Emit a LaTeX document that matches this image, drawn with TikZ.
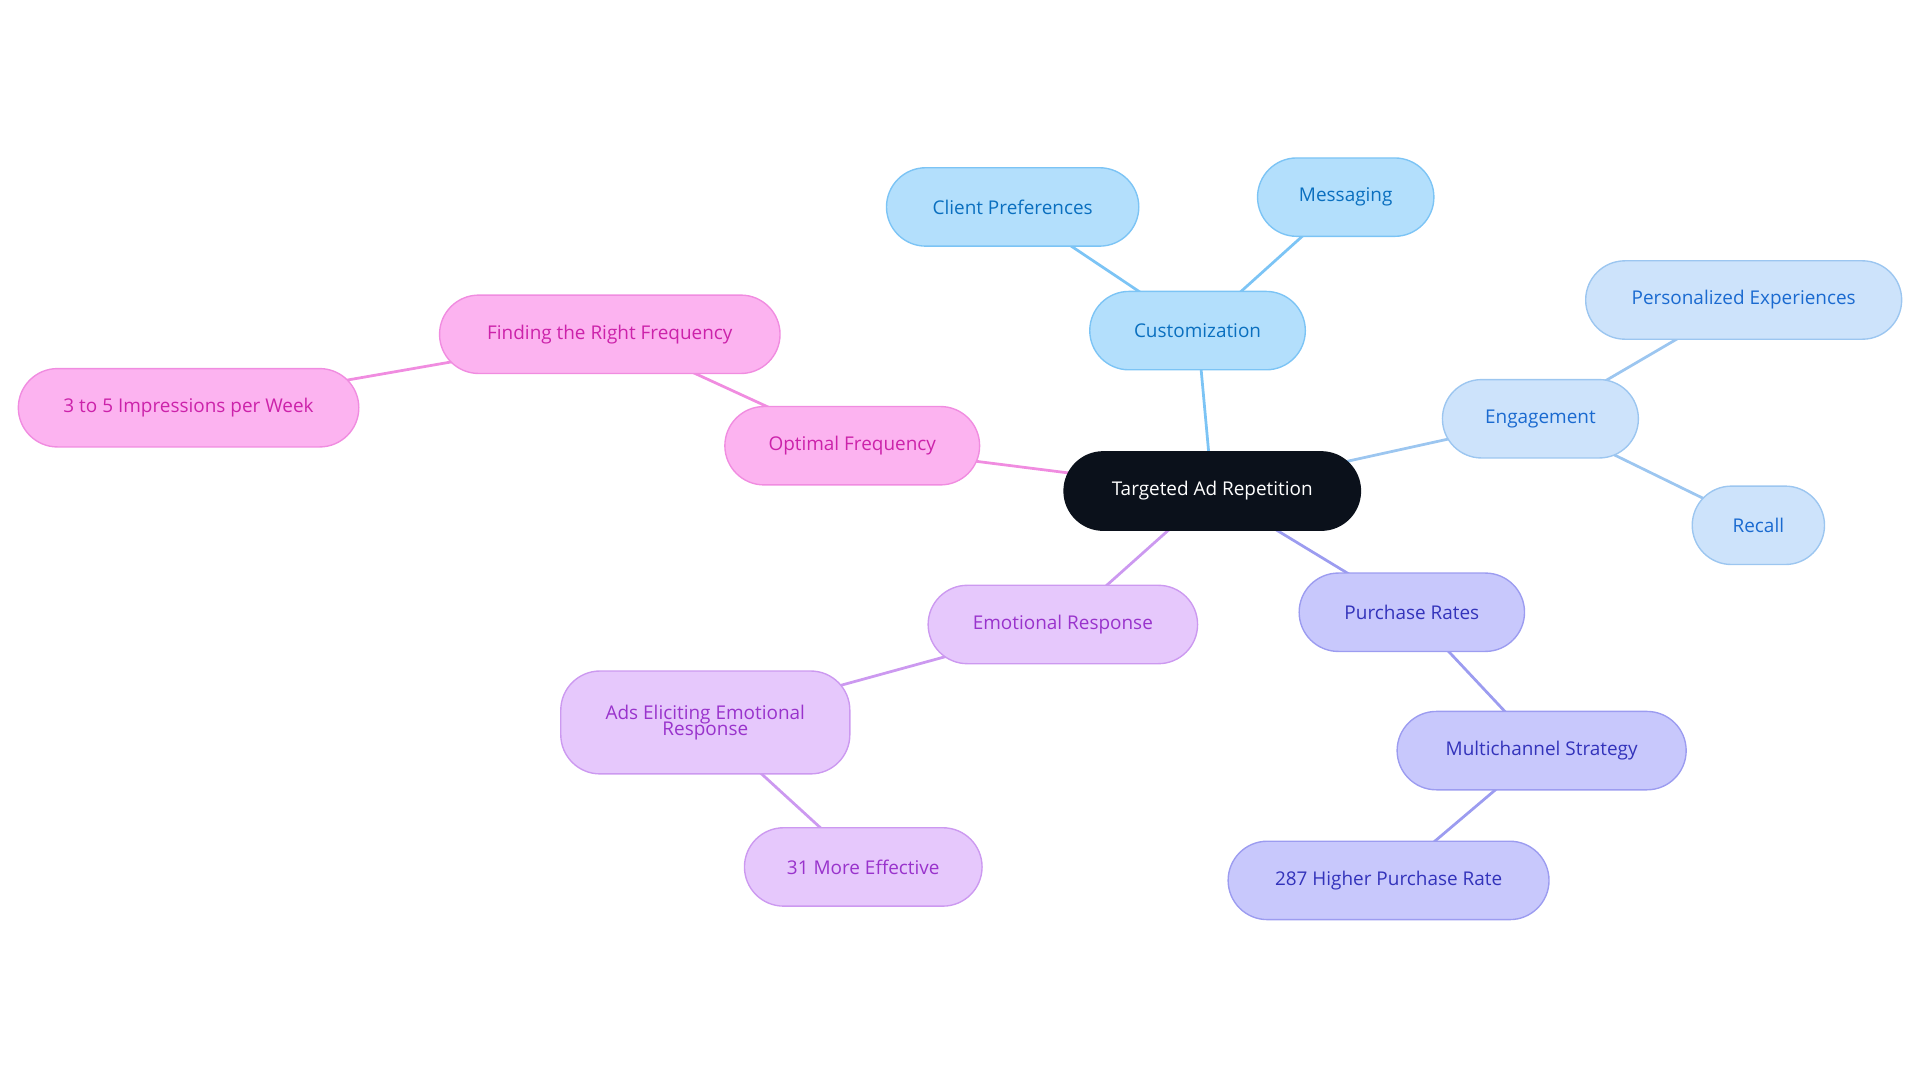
\documentclass[tikz,border=0pt]{standalone}
\usepackage{fontspec}
\setmainfont{Open Sans}
\usepackage{xcolor}
\definecolor{rootfill}{HTML}{0B111B}
\definecolor{cusfill}{HTML}{B3DFFC}\definecolor{cusline}{HTML}{7CC4F5}\definecolor{custext}{HTML}{0A6FBF}
\definecolor{engfill}{HTML}{CDE3FB}\definecolor{engline}{HTML}{9CC6F0}\definecolor{engtext}{HTML}{1A6AD0}
\definecolor{purfill}{HTML}{C8C8FC}\definecolor{purline}{HTML}{9C9CF0}\definecolor{purtext}{HTML}{3333BB}
\definecolor{emofill}{HTML}{E6C8FC}\definecolor{emoline}{HTML}{CC99F0}\definecolor{emotext}{HTML}{9933CC}
\definecolor{optfill}{HTML}{FCB3F0}\definecolor{optline}{HTML}{F08CE0}\definecolor{opttext}{HTML}{CC22AA}

\tikzset{
  box/.style={rounded corners=0.8cm, minimum height=1.6cm, align=center,
    font=\fontsize{11}{12}\selectfont, line width=0.8pt, inner sep=0pt},
  cus/.style={box, fill=cusfill, draw=cusline, text=custext},
  eng/.style={box, fill=engfill, draw=engline, text=engtext},
  pur/.style={box, fill=purfill, draw=purline, text=purtext},
  emo/.style={box, fill=emofill, draw=emoline, text=emotext},
  opt/.style={box, fill=optfill, draw=optline, text=opttext},
}

\begin{document}
\begin{tikzpicture}[x=0.025cm, y=-0.025cm]
  \useasboundingbox (0,0) rectangle (1568,884.5);

  %% edges first
  \begin{scope}[line width=1.6pt]
    \draw[cusline] (990,401) -- (978,270);
    \draw[cusline] (978,270) -- (827,169);
    \draw[cusline] (978,270) -- (1099,161);
    \draw[engline] (990,401) -- (1258,342);
    \draw[engline] (1258,342) -- (1424,245);
    \draw[engline] (1258,342) -- (1436,429);
    \draw[purline] (990,401) -- (1153,500);
    \draw[purline] (1153,500) -- (1259,613);
    \draw[purline] (1259,613) -- (1134,719);
    \draw[emoline] (990,401) -- (868,510);
    \draw[emoline] (868,510) -- (576,590);
    \draw[emoline] (576,590) -- (705,708);
    \draw[optline] (990,401) -- (696,364);
    \draw[optline] (696,364) -- (498,273);
    \draw[optline] (498,273) -- (154,333);
  \end{scope}

  %% root
  \node[box, fill=rootfill, draw=rootfill, text=white, minimum width=6.05cm] (root) at (990,401) {Targeted Ad Repetition};

  %% customization
  \node[cus, minimum width=4.4cm] (cust) at (978,270) {Customization};
  \node[cus, minimum width=5.15cm] (client) at (827,169) {Client Preferences};
  \node[cus, minimum width=3.6cm] (msg) at (1099,161) {Messaging};

  %% engagement
  \node[eng, minimum width=4cm] (engage) at (1258,342) {Engagement};
  \node[eng, minimum width=6.45cm] (perso) at (1424,245) {Personalized Experiences};
  \node[eng, minimum width=2.7cm] (recall) at (1436,429) {Recall};

  %% purchase
  \node[pur, minimum width=4.6cm] (purch) at (1153,500) {Purchase Rates};
  \node[pur, minimum width=5.9cm] (multi) at (1259,613) {Multichannel Strategy};
  \node[pur, minimum width=6.55cm] (higher) at (1134,719) {287 Higher Purchase Rate};

  %% emotional
  \node[emo, minimum width=5.5cm] (emot) at (868,510) {Emotional Response};
  \node[emo, minimum width=5.9cm, minimum height=2.1cm] (ads) at (576,590) {Ads Eliciting Emotional\\[-3pt]Response};
  \node[emo, minimum width=4.85cm] (effect) at (705,708) {31 More Effective};

  %% frequency
  \node[opt, minimum width=5.2cm] (optim) at (696,364) {Optimal Frequency};
  \node[opt, minimum width=6.95cm] (finding) at (498,273) {Finding the Right Frequency};
  \node[opt, minimum width=6.95cm] (three) at (154,333) {3 to 5 Impressions per Week};
\end{tikzpicture}
\end{document}
